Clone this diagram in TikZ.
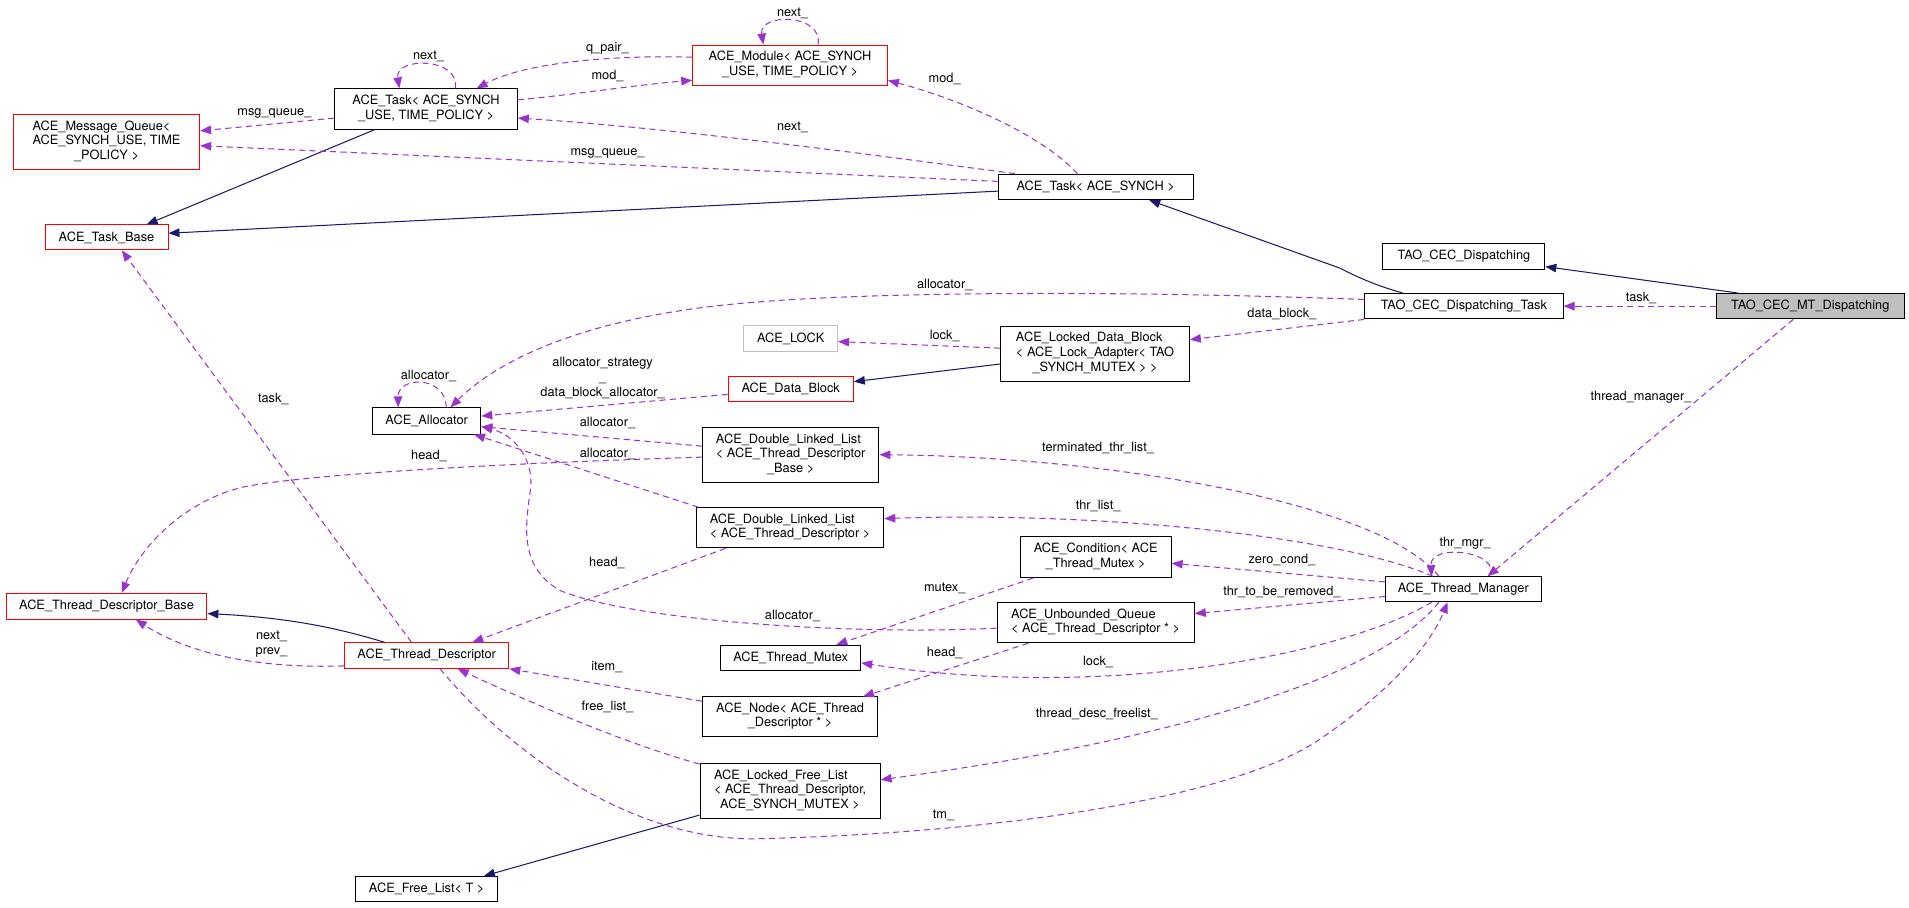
\documentclass[tikz,border=0pt]{standalone}
\usepackage{fontspec}
\setmainfont{TeX Gyre Heros}
\usetikzlibrary{arrows.meta,calc}
\definecolor{purp}{HTML}{9A32CD}
\definecolor{navyc}{HTML}{191970}
\definecolor{grayb}{HTML}{BFBFBF}
\newcommand{\mlines}[2]{\begin{tabular}{@{}l@{}}#1\\\multicolumn{1}{@{}c@{}}{#2}\end{tabular}}
\begin{document}
\begin{tikzpicture}[x=1pt,y=-1pt,
  box/.style={draw=black, line width=0.8pt, fill=white, inner sep=0pt, font=\fontsize{10.5}{12}\selectfont},
  redbox/.style={box, draw=red},
  graybox/.style={box, draw=grayb},
  lbl/.style={inner sep=0pt, align=center, font=\fontsize{10.5}{12}\selectfont},
  inh/.style={draw=navyc, line width=0.85pt, -{Triangle[length=9pt,width=7pt]}},
  use/.style={draw=purp, line width=0.85pt, dash pattern=on 5pt off 3.5pt, -{Triangle[length=9pt,width=7pt]}}]
\useasboundingbox (0,0) rectangle (1568.1,745.8);

% ---------------- nodes ----------------
\node[redbox, minimum width=153pt, minimum height=45pt] (MQ) at (87.5,116.5) {\mlines{ACE\_Message\_Queue<\\ACE\_SYNCH\_USE, TIME}{\_POLICY >}};
\node[redbox, minimum width=101pt, minimum height=20.5pt] (TaskBase) at (87.5,195) {ACE\_Task\_Base};
\node[box, minimum width=150pt, minimum height=33pt] (TaskU) at (350,89.5) {\mlines{ACE\_Task< ACE\_SYNCH}{\_USE, TIME\_POLICY >}};
\node[redbox, minimum width=160pt, minimum height=33pt] (Module) at (649,53.5) {\mlines{ACE\_Module< ACE\_SYNCH}{\_USE, TIME\_POLICY >}};
\node[box, minimum width=160pt, minimum height=21pt] (TaskS) at (900,153.5) {ACE\_Task< ACE\_SYNCH >};
\node[box, minimum width=133pt, minimum height=21pt] (Disp) at (1202.5,210.5) {TAO\_CEC\_Dispatching};
\node[box, minimum width=163pt, minimum height=21pt] (DispTask) at (1202.5,251.5) {TAO\_CEC\_Dispatching\_Task};
\node[box, fill=grayb, minimum width=154pt, minimum height=21pt] (MT) at (1487,251.5) {TAO\_CEC\_MT\_Dispatching};
\node[graybox, minimum width=77pt, minimum height=21pt] (Lock) at (649.5,278) {ACE\_LOCK};
\node[box, minimum width=155pt, minimum height=45pt] (LDB) at (899.5,290.5) {\mlines{ACE\_Locked\_Data\_Block\\< ACE\_Lock\_Adapter< TAO}{\_SYNCH\_MUTEX > >}};
\node[redbox, minimum width=103pt, minimum height=21pt] (DB) at (649.5,319.5) {ACE\_Data\_Block};
\node[box, minimum width=89pt, minimum height=21.5pt] (Alloc) at (350.5,345.75) {ACE\_Allocator};
\node[box, minimum width=145pt, minimum height=45pt] (DLLB) at (649.5,373.5) {\mlines{ACE\_Double\_Linked\_List\\< ACE\_Thread\_Descriptor}{\_Base >}};
\node[box, minimum width=154pt, minimum height=33pt] (DLLD) at (649,433.5) {\mlines{ACE\_Double\_Linked\_List}{< ACE\_Thread\_Descriptor >}};
\node[box, minimum width=124pt, minimum height=33.5pt] (Cond) at (900,457.75) {\mlines{ACE\_Condition< ACE}{\_Thread\_Mutex >}};
\node[box, minimum width=128pt, minimum height=20.5pt] (TM) at (1202,484) {ACE\_Thread\_Manager};
\node[redbox, minimum width=165pt, minimum height=21pt] (TDB) at (87.5,498) {ACE\_Thread\_Descriptor\_Base};
\node[box, minimum width=162pt, minimum height=33pt] (UQ) at (900,511.5) {\mlines{ACE\_Unbounded\_Queue}{< ACE\_Thread\_Descriptor * >}};
\node[box, minimum width=115pt, minimum height=21pt] (Mutex) at (649.5,540.5) {ACE\_Thread\_Mutex};
\node[redbox, minimum width=135pt, minimum height=21pt] (TD) at (350.5,538.5) {ACE\_Thread\_Descriptor};
\node[box, minimum width=144pt, minimum height=32.5pt] (ND) at (649,588.75) {\mlines{ACE\_Node< ACE\_Thread}{\_Descriptor * >}};
\node[box, minimum width=148pt, minimum height=45pt] (LFL) at (649,649.5) {\mlines{ACE\_Locked\_Free\_List\\< ACE\_Thread\_Descriptor,}{ACE\_SYNCH\_MUTEX >}};
\node[box, minimum width=117pt, minimum height=20.7pt] (FL) at (350.5,730.3) {ACE\_Free\_List< T >};

% ---------------- inheritance ----------------
\draw[inh] ($(TaskU.south)+(-42,0)$) -- ($(TaskBase.north)+(33,0)$);
\draw[inh] ($(TaskS.west)+(0,3.5)$) -- ($(TaskBase.east)+(0,-3.4)$);
\draw[inh] ($(DispTask.north)+(-50.5,0)$) .. controls (1128,234) and (1112,226) .. (1100,220) -- ($(TaskS.south)+(44,0)$);
\draw[inh] ($(MT.north)+(-60,0)$) -- ($(Disp.east)+(0,8.5)$);
\draw[inh] ($(LDB.west)+(0,8.5)$) -- ($(DB.east)+(0,-6)$);
\draw[inh] ($(TD.north)+(-34.5,0)$) .. controls (290,520) and (250,508) .. ($(TDB.east)+(0,6)$);
\draw[inh] ($(LFL.west)+(0,20)$) -- ($(FL.north)+(47,0)$);

% ---------------- usage ----------------
\draw[use] ($(TaskU.north)+(24,0)$) .. controls +(4,-26) and +(-4,-26) .. ($(TaskU.north)+(-22,0)$);
\draw[use] ($(Module.north)+(23,0)$) .. controls +(4,-26) and +(-4,-26) .. ($(Module.north)+(-22,0)$);
\draw[use] ($(Module.west)+(0,-6.5)$) .. controls (500,45) and (430,52) .. ($(TaskU.north)+(41.5,0)$);
\draw[use] ($(TaskU.east)+(0,-7.5)$) .. controls (470,78) and (520,70) .. ($(Module.west)+(0,12.5)$);
\draw[use] ($(TaskU.west)+(0,7.5)$) -- ($(MQ.east)+(0,-9)$);
\draw[use] ($(TaskS.north)+(-15,0)$) .. controls (860,115) and (800,85) .. ($(Module.east)+(0,12.5)$);
\draw[use] ($(TaskS.north west)+(14,0)$) .. controls (700,125) and (550,105) .. ($(TaskU.east)+(0,7.5)$);
\draw[use] ($(TaskS.west)+(0,-4.5)$) -- ($(MQ.east)+(0,3.2)$);
\draw[use] (MT.west) -- (DispTask.east);
\draw[use] ($(MT.south)+(-14,0)$) -- ($(TM.north)+(20,0)$);
\draw[use] ($(DispTask.west)+(0,-5.5)$) .. controls (900,238) and (700,240) .. (600,250) .. controls (480,262) and (410,295) .. ($(Alloc.north)+(19.5,0)$);
\draw[use] (DispTask.south west) -- ($(LDB.east)+(0,-11.5)$);
\draw[use] ($(LDB.west)+(0,-4.5)$) -- ($(Lock.east)+(0,2.6)$);
\draw[use] ($(Alloc.north)+(16,0)$) .. controls +(0,-26) and +(0,-26) .. ($(Alloc.north)+(-23.5,0)$);
\draw[use] ($(DB.west)+(0,4.5)$) -- ($(Alloc.east)+(0,-4)$);
\draw[use] ($(DLLB.west)+(0,-7)$) -- ($(Alloc.east)+(0,4.75)$);
\draw[use] ($(DLLD.north west)+(2,0)$) -- ($(Alloc.south east)+(-6,0)$);
\draw[use] ($(UQ.west)+(0,4.5)$) .. controls (700,522) and (520,510) .. (460,485) .. controls (425,465) and (432,430) .. (436,400) .. controls (438,380) and (425,358) .. ($(Alloc.east)+(0,4.5)$);
\draw[use] ($(DLLB.west)+(0,2)$) .. controls (400,381) and (250,390) .. (200,400) .. controls (150,412) and (115,450) .. ($(TDB.north)+(12.5,0)$);
\draw[use] ($(DLLD.south)+(-53,0)$) -- ($(TD.north)+(37.5,0)$);
\draw[use] ($(TD.north)+(-12.5,0)$) -- ($(TaskBase.south)+(12.5,0)$);
\draw[use] ($(TD.west)+(0,8.5)$) .. controls (220,549) and (160,540) .. ($(TDB.south)+(24,0)$);
\draw[use] ($(ND.west)+(0,-12.75)$) -- (TD.south east);
\draw[use] ($(LFL.north west)+(0,1)$) .. controls (510,610) and (420,570) .. ($(TD.south)+(25.5,0)$);
\draw[use] ($(TD.south)+(11,0)$) .. controls (420,620) and (520,690) .. (620,689) .. controls (800,685) and (1000,660) .. (1080,610) .. controls (1140,570) and (1175,530) .. ($(TM.south)+(-13,0)$);
\draw[use] ($(TM.south)+(-20,0)$) .. controls (1130,560) and (950,610) .. ($(LFL.east)+(0,-9)$);
\draw[use] ($(TM.south)+(-26,0)$) .. controls (1100,540) and (900,575) .. ($(Mutex.east)+(0,4)$);
\draw[use] ($(TM.west)+(0,6)$) -- ($(UQ.east)+(0,-7.5)$);
\draw[use] ($(TM.west)+(0,-6)$) -- ($(Cond.east)+(0,5)$);
\draw[use] ($(TM.north)+(-25,0)$) .. controls (1100,440) and (900,420) .. ($(DLLD.east)+(0,-7.5)$);
\draw[use] ($(TM.north)+(-20,0)$) .. controls (1130,410) and (900,375) .. (DLLB.east);
\draw[use] ($(TM.north)+(21,0)$) .. controls +(12,-20) and +(-2,-28) .. ($(TM.north)+(-26,0)$);
\draw[use] ($(Cond.south west)+(11,0)$) -- ($(Mutex.north)+(37.5,0)$);
\draw[use] ($(UQ.south west)+(26,0)$) -- ($(ND.north)+(60,0)$);

% ---------------- labels ----------------
\node[lbl] (l1) at (352,46.5) {next\_};
\node[lbl] (l2) at (651,11) {next\_};
\node[lbl] (l3) at (499,40) {q\_pair\_};
\node[lbl] (l4) at (499,62) {mod\_};
\node[lbl] (l5) at (225.4,93) {msg\_queue\_};
\node[lbl] (l6) at (776,65) {mod\_};
\node[lbl] (l7) at (651,105) {next\_};
\node[lbl] (l8) at (499,126) {msg\_queue\_};
\node[lbl] (l9) at (776,234) {allocator\_};
\node[lbl] (l10) at (1348,245) {task\_};
\node[lbl] (l11) at (1053,258) {data\_block\_};
\node[lbl] (l12) at (776,276) {lock\_};
\node[lbl] (l13) at (1348,326) {thread\_manager\_};
\node[lbl] (l14) at (352,308.6) {allocator\_};
\node[lbl] (l15) at (495,310.5) {allocator\_strategy\\\_\\data\_block\_allocator\_};
\node[lbl] (l16) at (499,347.6) {allocator\_};
\node[lbl] (l17) at (352.4,374.3) {head\_};
\node[lbl] (l18) at (499,373) {allocator\_};
\node[lbl] (l19) at (902,368) {terminated\_thr\_list\_};
\node[lbl] (l20) at (224.5,328) {task\_};
\node[lbl] (l21) at (902,416) {thr\_list\_};
\node[lbl] (l22) at (498.6,462.7) {head\_};
\node[lbl] (l23) at (1053,460) {zero\_cond\_};
\node[lbl] (l24) at (1203.5,446.5) {thr\_mgr\_};
\node[lbl] (l25) at (776,483.5) {mutex\_};
\node[lbl] (l26) at (1053,486) {thr\_to\_be\_removed\_};
\node[lbl] (l27) at (651,505.7) {allocator\_};
\node[lbl] (l28) at (223,529) {next\_\\prev\_};
\node[lbl] (l29) at (776,536) {head\_};
\node[lbl] (l30) at (902,544) {lock\_};
\node[lbl] (l31) at (498.5,547.6) {item\_};
\node[lbl] (l32) at (499,580.5) {free\_list\_};
\node[lbl] (l33) at (901,586.7) {thread\_desc\_freelist\_};
\node[lbl] (l34) at (775,669.5) {tm\_};
\end{tikzpicture}
\end{document}
